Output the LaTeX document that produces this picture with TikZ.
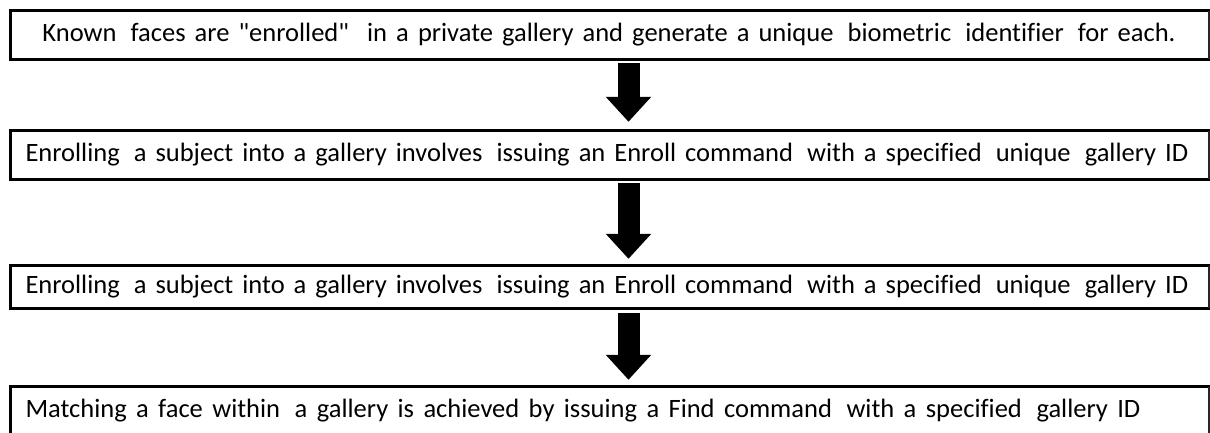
\documentclass[tikz,border=0pt]{standalone}
\usepackage{fontspec}
\setmainfont{Carlito}[Ligatures={NoCommon}]
\usetikzlibrary{arrows.meta}
\tikzset{
  flowbox/.style={draw=none, inner sep=0pt, minimum height=48pt, minimum width=1198pt,
    font=\fontsize{26.5}{30}\selectfont},
  edgethick/.style={draw=black, line width=3pt, line cap=rect},
  edgethin/.style={draw=black!85, line width=1.6pt},
  blockarrow/.style={draw=black, line width=22pt,
    -{Triangle[width=44pt,length=25pt]}},
}
\newcommand{\boxtext}[3]{\makebox[1198pt][l]{\hspace{#1pt}\makebox[#2pt][s]{#3}}}
\newcommand{\xsp}{\hskip 0.14em plus 0.05em\relax}
\begin{document}
\begin{tikzpicture}[x=1pt,y=-1pt]
\useasboundingbox (0,0) rectangle (1210,432);
\clip (0,0) rectangle (1210,432);
\node[flowbox] (b1) at (609.5,35) {\boxtext{32}{1133}{Known\xsp{} faces are \textquotedbl enrolled\textquotedbl\ \ in a private gallery and generate a unique\xsp{} biometric\xsp{} identifier\xsp{} for each.}};
\node[flowbox] (b2) at (609.5,155) {\boxtext{15}{1163}{Enrolling\xsp{} a subject into a gallery involves\xsp{} issuing an Enroll command\xsp{} with a specified\xsp{} unique\xsp{} gallery ID}};
\node[flowbox, minimum height=42pt] (b3) at (609.5,287) {\boxtext{15}{1163}{Enrolling\xsp{} a subject into a gallery involves\xsp{} issuing an Enroll command\xsp{} with a specified\xsp{} unique\xsp{} gallery ID}};
\node[flowbox] (b4) at (609.5,411) {\boxtext{15}{1115}{Matching a face within\xsp{} a gallery is achieved by issuing a Find command\xsp{} with a specified\xsp{} gallery ID}};
\foreach \b in {b1,b2,b3,b4}{
  \draw[edgethick] (\b.north east) -- (\b.north west) -- (\b.south west) -- (\b.south east);
  \draw[edgethin] (\b.north east) -- (\b.south east);
}
\draw[blockarrow, shorten <=4pt, shorten >=9pt] ([xshift=19pt]b1.south) -- ([xshift=19pt]b2.north);
\draw[blockarrow, shorten <=4pt, shorten >=7pt] ([xshift=19pt]b2.south) -- ([xshift=19pt]b3.north);
\draw[blockarrow, shorten <=5pt, shorten >=7pt] ([xshift=19pt]b3.south) -- ([xshift=19pt]b4.north);
\end{tikzpicture}
\end{document}
